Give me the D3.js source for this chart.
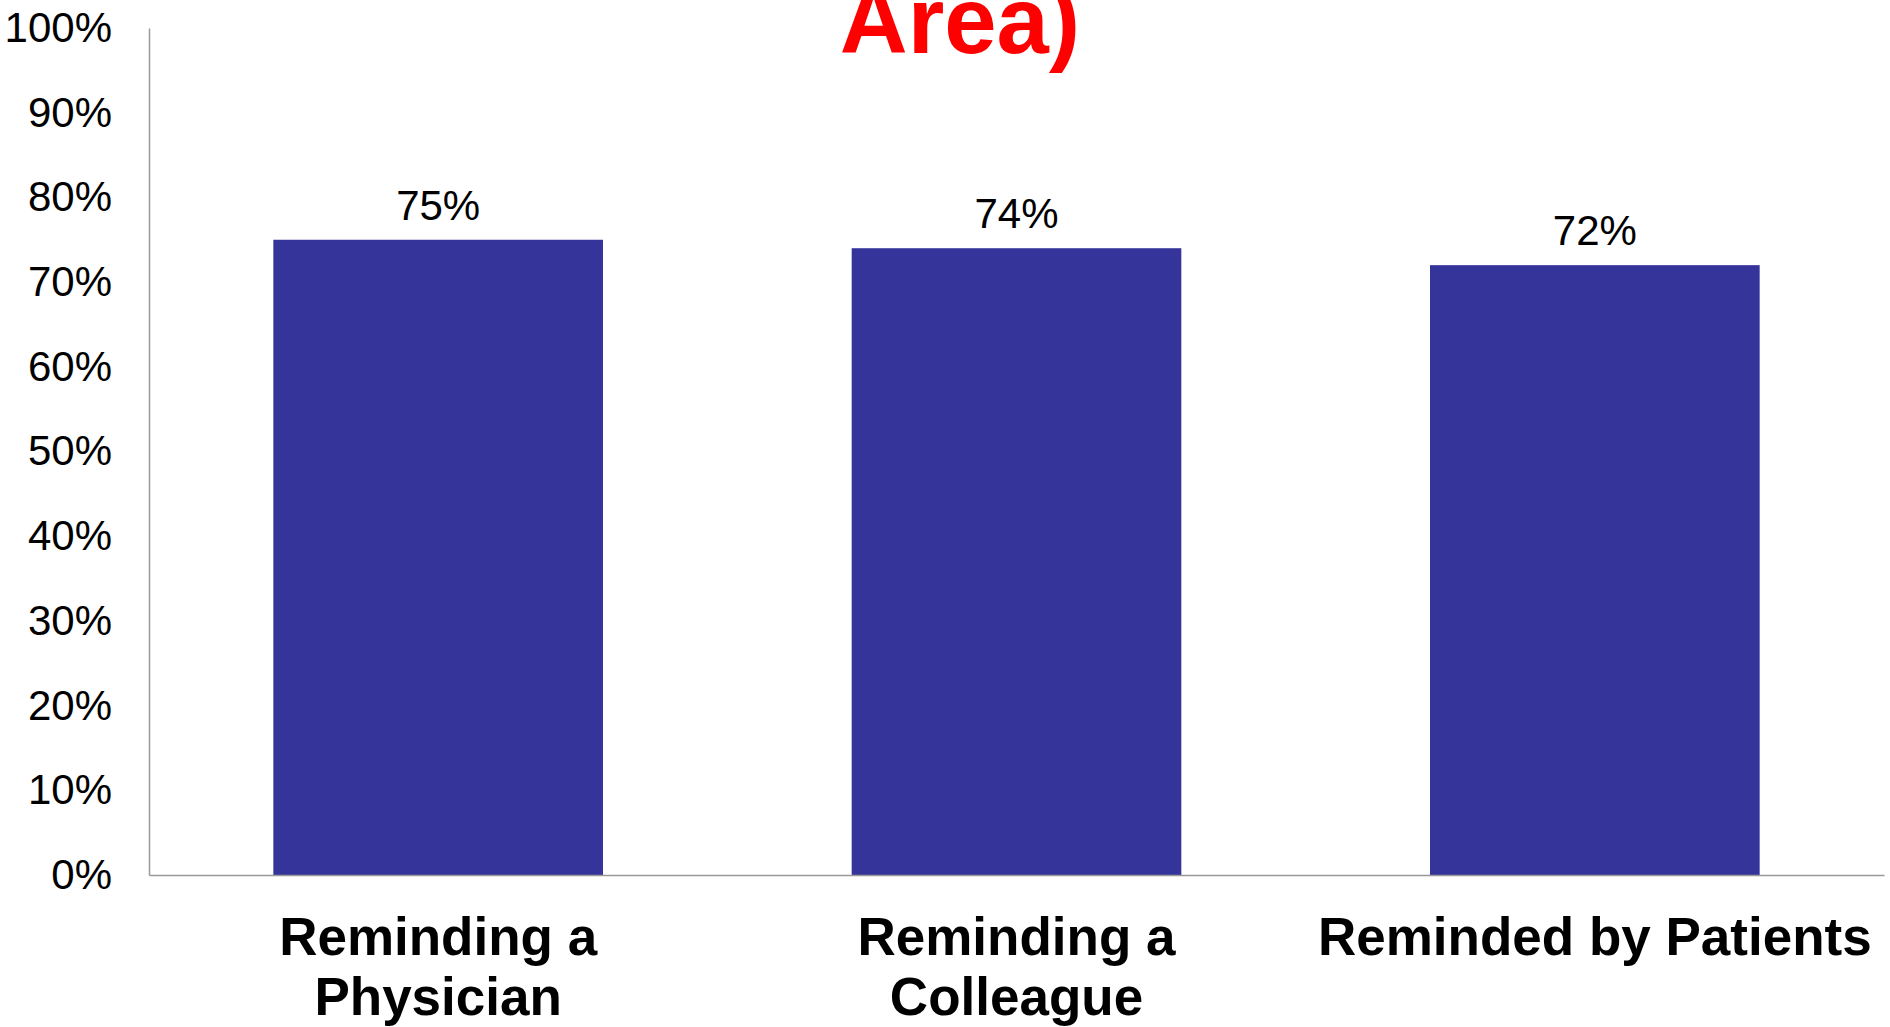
<!DOCTYPE html>
<html>
<head>
<meta charset="utf-8">
<script src="https://cdn.jsdelivr.net/npm/d3@7"></script>
<style>
  html, body { margin: 0; padding: 0; background: #fff; }
  svg { display: block; font-family: "Liberation Sans", Arial, sans-serif; }
</style>
</head>
<body>
<svg id="chart" width="1890" height="1027"></svg>
<script>
const categories = [["Reminding a", "Physician"], ["Reminding a", "Colleague"], ["Reminded by Patients"]];
const values = [75, 74, 72];
const tickValues = [0, 10, 20, 30, 40, 50, 60, 70, 80, 90, 100];
const titleText = "Area)";

const svg = d3.select("#chart");
const mLeft = 149, mRight = 1884, mTop = 28, mBottom = 875;

const x = d3.scaleBand()
  .domain(d3.range(values.length))
  .range([mLeft, mRight])
  .paddingInner(0.43)
  .paddingOuter(0.215);

const y = d3.scaleLinear().domain([0, 100]).range([mBottom, mTop]);

// title (partially visible, as in the reference)
svg.append("text")
  .attr("x", 960).attr("y", 53)
  .attr("text-anchor", "middle")
  .attr("font-size", 94).attr("font-weight", "bold")
  .attr("fill", "#ff0000")
  .text(titleText);

// bars
svg.selectAll("rect.bar").data(values).enter().append("rect")
  .attr("class", "bar")
  .attr("x", (d, i) => x(i))
  .attr("width", x.bandwidth())
  .attr("y", d => y(d))
  .attr("height", d => y(0) - y(d))
  .attr("fill", "#35349a");

// y axis
const yAxis = d3.axisLeft(y).tickValues(tickValues).tickSize(0).tickPadding(37)
  .tickFormat(d => d + "%");
const gy = svg.append("g").attr("transform", `translate(${mLeft},0)`).call(yAxis);
gy.select(".domain").attr("stroke", "#999").attr("stroke-width", 1.5);
gy.selectAll(".tick text").attr("font-size", 42).attr("fill", "#000")
  .attr("font-family", "Liberation Sans, Arial, sans-serif");

// x baseline
const xAxis = d3.axisBottom(x).tickSize(0).tickFormat("");
const gx = svg.append("g").attr("transform", `translate(0,${mBottom})`).call(xAxis);
gx.select(".domain").attr("stroke", "#999").attr("stroke-width", 1.5);

// value labels
svg.selectAll("text.val").data(values).enter().append("text")
  .attr("class", "val")
  .attr("x", (d, i) => x(i) + x.bandwidth() / 2)
  .attr("y", d => y(d) - 20)
  .attr("text-anchor", "middle")
  .attr("font-size", 42).attr("fill", "#000")
  .text(d => d + "%");

// category labels
const cl = svg.selectAll("text.cat").data(categories).enter().append("text")
  .attr("class", "cat")
  .attr("x", (d, i) => x(i) + x.bandwidth() / 2)
  .attr("y", 955)
  .attr("text-anchor", "middle")
  .attr("font-size", 53).attr("font-weight", "bold").attr("fill", "#000");
cl.selectAll("tspan").data(d => d).enter().append("tspan")
  .attr("x", function() { return d3.select(this.parentNode).attr("x"); })
  .attr("dy", (d, i) => i === 0 ? 0 : 60)
  .text(d => d);
</script>
</body>
</html>
